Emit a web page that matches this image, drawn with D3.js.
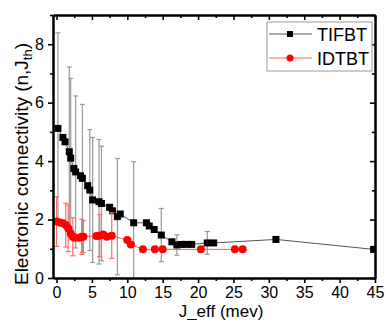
<!DOCTYPE html>
<html>
<head>
<meta charset="utf-8">
<script src="https://cdn.jsdelivr.net/npm/d3@7"></script>
<style>
  body { margin: 0; background: #fff; }
  svg text { font-family: "Liberation Sans", Arial, sans-serif; fill: #000; }
</style>
</head>
<body>
<svg id="chart" width="385" height="320"></svg>
<script>
// TIFBT (black squares, grey error bars)
const tifbtX = [0.2, 0.9, 1.2, 1.8, 2.0, 2.45, 2.7, 3.4, 3.65, 4.4, 4.7, 5.1, 6.0, 6.35, 7.5, 7.9, 8.6, 9.0,
    10.9, 12.7, 13.1, 13.8, 14.8, 16.3, 17.0, 17.6, 18.3, 19.1, 21.3, 22.2, 31.0, 44.8];
const tifbtY = [5.12, 4.81, 4.66, 4.32, 4.10, 3.75, 3.63, 3.50, 3.41, 3.16, 3.01, 2.67, 2.61, 2.55, 2.42, 2.30, 2.10, 2.19,
    1.89, 1.89, 1.78, 1.66, 1.47, 1.24, 1.13, 1.15, 1.15, 1.15, 1.20, 1.20, 1.32, 0.98];
const tifbtErr = [3.27, 0, 0, 2.9, 2.73, 0, 2.6, 0, 2.53, 0, 2.07, 2.14, 2.13, 1.96, 0, 0, 1.99, 0,
    2.09, 0, 0, 0, 0.91, 0, 0.35, 0, 0, 0, 0.39, 0, 0, 0];

// IDTBT (red circles, red error bars)
const idtbtX = [0, 0.5, 0.9, 1.3, 1.65, 2.0, 2.3, 2.6, 3.2, 3.55, 3.8, 5.65, 6.1, 6.6, 7.1, 7.8,
    10.0, 10.5, 12.2, 13.9, 15.0, 20.4, 25.2, 26.3];
const idtbtY = [1.93, 1.90, 1.87, 1.81, 1.70, 1.53, 1.41, 1.38, 1.38, 1.41, 1.41, 1.44, 1.45, 1.49, 1.41, 1.45,
    1.30, 1.15, 0.98, 0.98, 0.98, 0.98, 0.98, 0.98];
const idtbtErr = [0.85, 0, 0, 0.75, 0.8, 0, 0.65, 0, 0, 0.6, 0.55, 0, 0.72, 0, 0, 0.78,
    0, 0, 0, 0, 0, 0, 0, 0];

const xTicks = [0, 5, 10, 15, 20, 25, 30, 35, 40, 45];
const xMinorTicks = [2.5, 7.5, 12.5, 17.5, 22.5, 27.5, 32.5, 37.5, 42.5];
const yTicks = [0, 2, 4, 6, 8];
const yMinorTicks = [1, 3, 5, 7, 9];

const COLORS = {
    tifbtMarker: '#000',
    tifbtLine: '#555',
    tifbtErr: '#999',
    idtbtMarker: '#ff0000',
    idtbtLine: '#ff5a5a',
    idtbtErr: '#ff6a6a',
    legendBorder: '#999'
};

const plot = { left: 53, right: 375, top: 15, bottom: 278 };

const svg = d3.select('#chart');
const x = d3.scaleLinear().domain([-0.5, 45]).range([plot.left, plot.right]);
const y = d3.scaleLinear().domain([0, 9]).range([plot.bottom, plot.top]);

svg.append('clipPath').attr('id', 'plotClip')
    .append('rect')
    .attr('x', plot.left).attr('y', plot.top)
    .attr('width', plot.right - plot.left).attr('height', plot.bottom - plot.top);

const zip = (xs, ys, es) => xs.map((v, i) => ({ x: v, y: ys[i], e: es[i] }));

function drawSeries (data, opts) {
    const g = svg.append('g').attr('clip-path', 'url(#plotClip)');

    // error bars
    const bars = g.selectAll('.err').data(data.filter(d => d.e > 0)).enter().append('g')
        .attr('stroke', opts.errColor).attr('stroke-width', 1.2).attr('fill', 'none');
    bars.append('line')
        .attr('x1', d => x(d.x)).attr('x2', d => x(d.x))
        .attr('y1', d => y(d.y - d.e)).attr('y2', d => y(d.y + d.e));
    [1, -1].forEach(s => {
        bars.append('line')
            .attr('x1', d => x(d.x) - 2.5).attr('x2', d => x(d.x) + 2.5)
            .attr('y1', d => y(d.y + s * d.e)).attr('y2', d => y(d.y + s * d.e));
    });

    g.append('path')
        .datum(data)
        .attr('fill', 'none')
        .attr('stroke', opts.lineColor)
        .attr('stroke-width', 1)
        .attr('d', d3.line().x(d => x(d.x)).y(d => y(d.y)));

    if (opts.shape === 'square') {
        g.selectAll('.pt').data(data).enter().append('rect')
            .attr('x', d => x(d.x) - 3.5).attr('y', d => y(d.y) - 3.5)
            .attr('width', 7).attr('height', 7)
            .attr('fill', opts.markerColor);
    } else {
        g.selectAll('.pt').data(data).enter().append('circle')
            .attr('cx', d => x(d.x)).attr('cy', d => y(d.y)).attr('r', 4)
            .attr('fill', opts.markerColor);
    }
}

drawSeries(zip(tifbtX, tifbtY, tifbtErr), {
    shape: 'square', markerColor: COLORS.tifbtMarker, lineColor: COLORS.tifbtLine, errColor: COLORS.tifbtErr
});
drawSeries(zip(idtbtX, idtbtY, idtbtErr), {
    shape: 'circle', markerColor: COLORS.idtbtMarker, lineColor: COLORS.idtbtLine, errColor: COLORS.idtbtErr
});

// axes: labelled bottom/left, ticks only on top/right (pointing in)
function styleAxis (g) {
    g.selectAll('.domain').attr('stroke', '#000').attr('stroke-width', 2);
    g.selectAll('.tick line').attr('stroke', '#000').attr('stroke-width', 1.6);
    g.selectAll('.tick text').attr('font-size', 16).attr('fill', '#000');
}

svg.append('g').attr('transform', `translate(0,${plot.bottom})`)
    .call(d3.axisBottom(x).tickValues(xMinorTicks).tickSize(3).tickSizeOuter(0).tickFormat(''))
    .call(styleAxis);
svg.append('g').attr('transform', `translate(0,${plot.bottom})`)
    .call(d3.axisBottom(x).tickValues(xTicks).tickSize(5).tickSizeOuter(0).tickPadding(4))
    .call(styleAxis);
svg.append('g').attr('transform', `translate(0,${plot.top})`)
    .call(d3.axisTop(x).tickValues(xMinorTicks).tickSize(-3).tickSizeOuter(0).tickFormat(''))
    .call(styleAxis);
svg.append('g').attr('transform', `translate(0,${plot.top})`)
    .call(d3.axisTop(x).tickValues(xTicks).tickSize(-5).tickSizeOuter(0).tickFormat(''))
    .call(styleAxis);

svg.append('g').attr('transform', `translate(${plot.left},0)`)
    .call(d3.axisLeft(y).tickValues(yMinorTicks).tickSize(3).tickSizeOuter(0).tickFormat(''))
    .call(styleAxis);
svg.append('g').attr('transform', `translate(${plot.left},0)`)
    .call(d3.axisLeft(y).tickValues(yTicks).tickSize(5).tickSizeOuter(0).tickPadding(4))
    .call(styleAxis);
svg.append('g').attr('transform', `translate(${plot.right},0)`)
    .call(d3.axisRight(y).tickValues(yMinorTicks).tickSize(-3).tickSizeOuter(0).tickFormat(''))
    .call(styleAxis);
svg.append('g').attr('transform', `translate(${plot.right},0)`)
    .call(d3.axisRight(y).tickValues(yTicks).tickSize(-5).tickSizeOuter(0).tickFormat(''))
    .call(styleAxis);

// axis titles
svg.append('text')
    .attr('x', 221).attr('y', 316.5)
    .attr('text-anchor', 'middle')
    .attr('font-size', 17)
    .text('J_eff (mev)');

const yTitle = svg.append('text')
    .attr('transform', 'translate(28,164) rotate(-90)')
    .attr('text-anchor', 'middle')
    .attr('font-size', 19);
yTitle.append('tspan').text('Electronic connectivity (n,J');
yTitle.append('tspan').attr('font-size', 13).attr('dy', 4).text('th');
yTitle.append('tspan').attr('dy', -4).text(')');

// legend
const legend = svg.append('g').attr('transform', 'translate(267,22)');
legend.append('rect')
    .attr('width', 105).attr('height', 49)
    .attr('fill', '#fff').attr('stroke', COLORS.legendBorder).attr('stroke-width', 1);

const legendItems = [
    { name: 'TIFBT', shape: 'square', marker: COLORS.tifbtMarker, line: COLORS.tifbtLine },
    { name: 'IDTBT', shape: 'circle', marker: COLORS.idtbtMarker, line: COLORS.idtbtLine }
];
legendItems.forEach((item, i) => {
    const cy = 12 + i * 24;
    legend.append('line')
        .attr('x1', 2).attr('x2', 45).attr('y1', cy).attr('y2', cy)
        .attr('stroke', item.line).attr('stroke-width', 1);
    if (item.shape === 'square') {
        legend.append('rect').attr('x', 20).attr('y', cy - 3).attr('width', 6).attr('height', 6).attr('fill', item.marker);
    } else {
        legend.append('circle').attr('cx', 23).attr('cy', cy).attr('r', 3.5).attr('fill', item.marker);
    }
    legend.append('text')
        .attr('x', 50).attr('y', cy + 6.5)
        .attr('font-size', 18)
        .text(item.name);
});
</script>
</body>
</html>
